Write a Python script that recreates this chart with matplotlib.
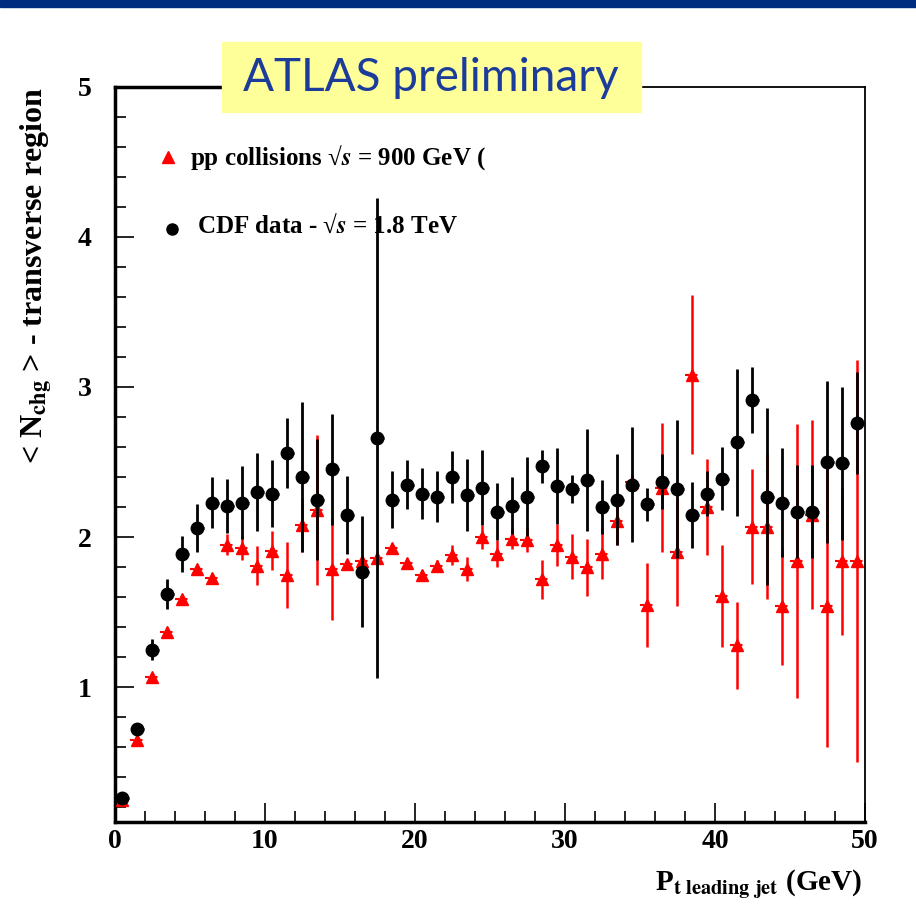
import numpy as np
import matplotlib
matplotlib.use('Agg')
import matplotlib.pyplot as plt
from matplotlib.ticker import MultipleLocator

plt.rcParams['font.family'] = ['Liberation Serif', 'DejaVu Serif']
plt.rcParams['font.weight'] = 'bold'
plt.rcParams['mathtext.fontset'] = 'stix'

# bin centres of the leading-jet pt (GeV)
pt_bins = np.arange(0.5, 50, 1.0)

# CDF data, sqrt(s) = 1.8 TeV
cdf_y = [0.26, 0.72, 1.25, 1.62, 1.89, 2.06, 2.23, 2.21, 2.23, 2.30,
         2.29, 2.56, 2.40, 2.25, 2.45, 2.15, 1.77, 2.66, 2.25, 2.35,
         2.29, 2.27, 2.40, 2.28, 2.33, 2.17, 2.21, 2.27, 2.47, 2.34,
         2.32, 2.38, 2.20, 2.25, 2.35, 2.22, 2.37, 2.32, 2.15, 2.29,
         2.39, 2.63, 2.91, 2.27, 2.23, 2.17, 2.17, 2.50, 2.49, 2.76]
cdf_err = [0.02, 0.03, 0.07, 0.10, 0.12, 0.16, 0.17, 0.18, 0.24, 0.26,
           0.22, 0.23, 0.50, 0.40, 0.37, 0.26, 0.37, 1.60, 0.19, 0.16,
           0.17, 0.17, 0.17, 0.24, 0.25, 0.19, 0.19, 0.26, 0.11, 0.25,
           0.095, 0.34, 0.18, 0.30, 0.38, 0.11, 0.18, 0.46, 0.22, 0.15,
           0.21, 0.49, 0.22, 0.59, 0.36, 0.31, 0.31, 0.54, 0.51, 0.34]

# pp collisions, sqrt(s) = 900 GeV
pp_y = [0.25, 0.65, 1.07, 1.37, 1.59, 1.79, 1.73, 1.95, 1.93, 1.81,
        1.91, 1.75, 2.08, 2.18, 1.79, 1.82, 1.84, 1.86, 1.93, 1.83,
        1.75, 1.81, 1.88, 1.79, 2.00, 1.89, 1.99, 1.98, 1.72, 1.95,
        1.87, 1.80, 1.89, 2.11, 2.37, 1.55, 2.33, 1.90, 3.08, 2.20,
        1.61, 1.28, 2.07, 2.07, 1.54, 1.84, 2.15, 1.54, 1.84, 1.84]
pp_err = [0.01, 0.01, 0.01, 0.01, 0.01, 0.02, 0.03, 0.07, 0.08, 0.13,
          0.13, 0.22, 0.18, 0.50, 0.34, 0.03, 0.03, 0.03, 0.03, 0.03,
          0.03, 0.04, 0.065, 0.08, 0.08, 0.09, 0.07, 0.08, 0.13, 0.14,
          0.15, 0.19, 0.17, 0.16, 0.05, 0.28, 0.43, 0.36, 0.53, 0.32,
          0.34, 0.29, 0.38, 0.48, 0.39, 0.91, 0.63, 0.94, 0.49, 1.34]

fig = plt.figure(figsize=(9.16, 9.08), dpi=100)
ax = fig.add_axes([0.1255, 0.0947, 0.8188, 0.8095])

# red: vertical bars, dashed horizontal bin widths, triangles
ax.errorbar(pt_bins, pp_y, yerr=pp_err, fmt='none', ecolor='red', elinewidth=1.8, zorder=2)
eb = ax.errorbar(pt_bins, pp_y, xerr=0.5, fmt='none', ecolor='red', elinewidth=1.5, zorder=2)
eb[2][0].set_linestyle((0, (2, 2)))
ax.plot(pt_bins, pp_y, ls='none', marker='^', color='red', ms=8, zorder=3)

# black CDF points
ax.errorbar(pt_bins, cdf_y, yerr=cdf_err, xerr=0.45, fmt='o', color='black',
            ms=9, elinewidth=2.0, capsize=0, zorder=4)

ax.set_xlim(0, 50)
ax.set_ylim(0.1, 5)
ax.set_yticks([1, 2, 3, 4, 5])
ax.set_xticks([0, 10, 20, 30, 40, 50])
ax.xaxis.set_minor_locator(MultipleLocator(2))
ax.yaxis.set_minor_locator(MultipleLocator(0.2))
ax.tick_params(which='both', direction='in', top=False, right=False, width=1.2)
ax.tick_params(which='major', length=14, labelsize=20)
ax.tick_params(which='minor', length=8)
ax.tick_params(axis='y', which='major', pad=17)
ax.tick_params(axis='x', which='major', pad=5)
for lab in ax.get_xticklabels() + ax.get_yticklabels():
    lab.set_fontweight('bold')
for side in ['left', 'bottom']:
    ax.spines[side].set_linewidth(2.5)
for side in ['top', 'right']:
    ax.spines[side].set_linewidth(1.3)
# thicker stretch of the top frame on the left of the title box
ax.plot([0, 7.2], [5, 5], color='black', lw=2.5, clip_on=False, zorder=5)

# legend entries written as text
ax.plot([3.55], [4.53], ls='none', marker='^', color='red', ms=8)
ax.text(5.0, 4.53, 'pp collisions √$\\it{s}$ = 900 GeV (', fontsize=18,
        fontweight='bold', va='center', ha='left')
ax.plot([3.8], [4.05], ls='none', marker='o', color='black', ms=8)
ax.text(5.5, 4.07, 'CDF data - √$\\it{s}$ = 1.8 TeV', fontsize=18,
        fontweight='bold', va='center', ha='left')

# axis titles
fig.text(0.040, 0.696, r'< N$_{\mathbf{chg}}$ > - transverse region', rotation=90,
         fontsize=23, fontweight='bold', ha='center', va='center')
fig.text(0.941, 0.027, r'P$_{\mathbf{t\ leading\ jet}}$ (GeV)',
         fontsize=21, fontweight='bold', ha='right', va='center')

# slide decoration
fig.patches.append(plt.Rectangle((0, 0.992), 1, 0.008, transform=fig.transFigure,
                                 color='#002c80', zorder=5))
fig.patches.append(plt.Rectangle((222 / 916, 1 - 112 / 908), 419 / 916, 70 / 908,
                                 transform=fig.transFigure, color='#ffff99', zorder=5))
fig.text(431 / 916, 1 - 78 / 908, 'ATLAS preliminary', fontsize=33, color='#1c3c9c',
         family='Lato', fontweight='normal', ha='center', va='center', zorder=6)

fig.savefig('out.png', dpi=100)
